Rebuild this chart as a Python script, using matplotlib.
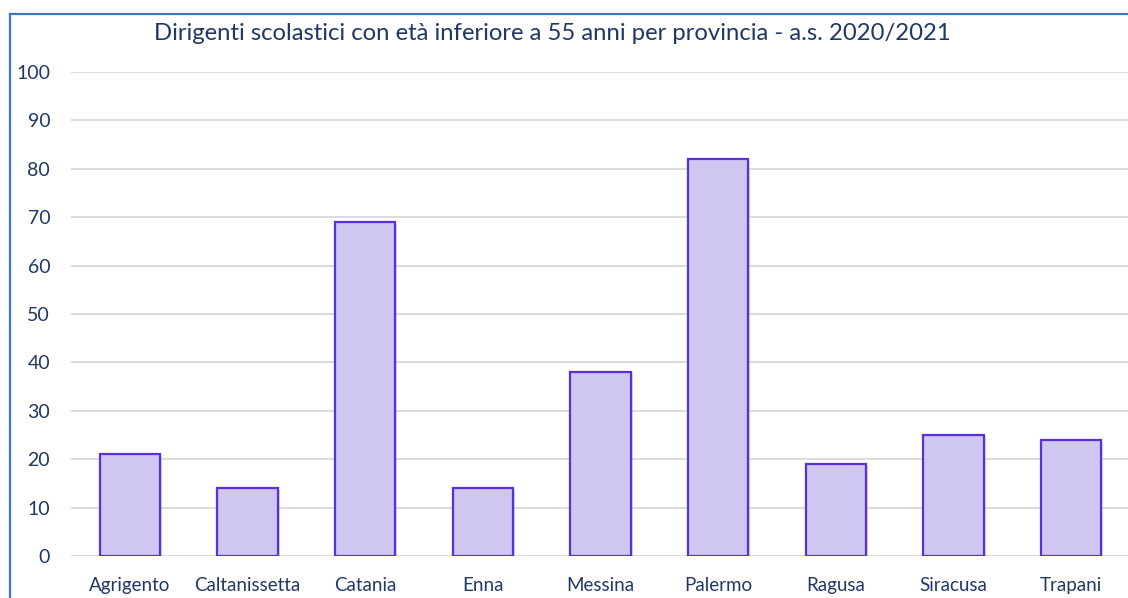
import matplotlib
matplotlib.use('Agg')
import matplotlib.pyplot as plt
from matplotlib.lines import Line2D
import matplotlib.patheffects as pe

province = ['Agrigento', 'Caltanissetta', 'Catania', 'Enna', 'Messina',
            'Palermo', 'Ragusa', 'Siracusa', 'Trapani']
dirigenti = [21, 14, 69, 14, 38, 82, 19, 25, 24]
title = 'Dirigenti scolastici con età inferiore a 55 anni per provincia - a.s. 2020/2021'

text_col = '#1F3864'
plt.rcParams['font.family'] = ['Lato', 'DejaVu Sans']

fig = plt.figure(figsize=(11.28, 5.98), dpi=100)
ax = fig.add_axes([71/1128, 1 - 556/598, 1059/1128, 484/598])

x = range(len(province))
bars = ax.bar(x, dirigenti, width=0.51, color='#CFC6F2', edgecolor='#5B30DC',
              linewidth=1.6, zorder=3)
for b in bars:
    b.set_path_effects([pe.SimplePatchShadow(offset=(1.5, -1.5), shadow_rgbFace='#999999', alpha=0.35),
                        pe.Normal()])

ax.set_xlim(-0.5, len(province) - 0.5)
ax.set_ylim(0, 100)
ax.set_yticks(range(0, 101, 10))
ax.set_xticks(list(x))
ax.set_xticklabels(province)
ax.yaxis.grid(True, color='#D9D9D9', linewidth=1.3, zorder=0)
ax.set_axisbelow(True)
for s in ax.spines.values():
    s.set_visible(False)
ax.tick_params(axis='both', length=0, labelsize=13.5, colors=text_col)
ax.tick_params(axis='y', pad=15, labelsize=14)
ax.tick_params(axis='x', pad=15)

fig.text(552/1128, 1 - 33/598, title, ha='center', va='center',
         fontsize=17.2, color=text_col)

# outer chart border (left and top)
bx = 9.5/1128
by = 1 - 14/598
fig.add_artist(Line2D([bx, bx], [0, by], color='#4472C4', linewidth=1.6, transform=fig.transFigure))
fig.add_artist(Line2D([bx, 1], [by, by], color='#4472C4', linewidth=1.6, transform=fig.transFigure))

fig.savefig('out.png', dpi=100)
